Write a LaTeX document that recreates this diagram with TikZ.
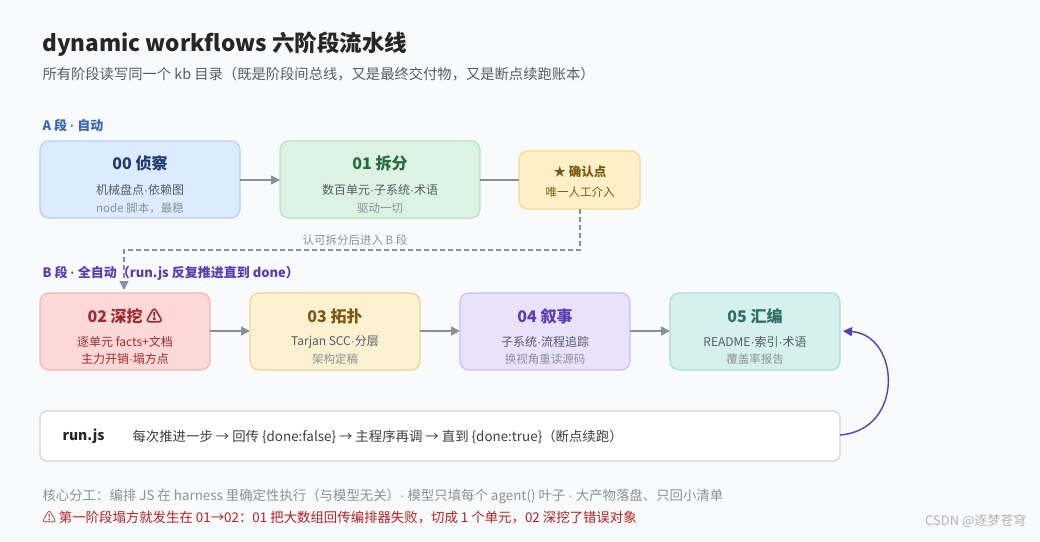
\documentclass[tikz,border=0pt]{standalone}
\usepackage{fontspec}
\setmainfont{Noto Sans CJK SC}
\newfontfamily\latf{Liberation Sans}
\newcommand{\dt}{{\latf ·}}
\usetikzlibrary{arrows.meta}
\definecolor{bg}{HTML}{F9FAFC}
\definecolor{ln}{HTML}{8A9099}
\definecolor{gtx}{HTML}{555B66}
\definecolor{ltx}{HTML}{8C9199}
\definecolor{ablue}{HTML}{3566B0}
\definecolor{purp}{HTML}{5B3DB0}
\definecolor{b0d}{HTML}{B5CFFB}\definecolor{b0f}{HTML}{DCEBFE}\definecolor{b0t}{HTML}{1E3A6E}
\definecolor{b1d}{HTML}{B3E3C2}\definecolor{b1f}{HTML}{DCF3E3}\definecolor{b1t}{HTML}{2A6B3F}
\definecolor{cd}{HTML}{F3D88E}\definecolor{cf}{HTML}{FDEFC8}\definecolor{ct}{HTML}{7A5A12}
\definecolor{b2d}{HTML}{F7B4B4}\definecolor{b2f}{HTML}{FDD8D8}\definecolor{b2t}{HTML}{9B2C2C}
\definecolor{b3d}{HTML}{EDD591}\definecolor{b3f}{HTML}{FBF0CF}
\definecolor{b4d}{HTML}{CDBDF2}\definecolor{b4f}{HTML}{EAE2FA}
\definecolor{b5d}{HTML}{A9DEDA}\definecolor{b5f}{HTML}{D6F0EE}\definecolor{b5t}{HTML}{2B6E6A}
\definecolor{rjd}{HTML}{D3D6DB}\definecolor{rjt}{HTML}{3A3F47}
\definecolor{warn}{HTML}{B22222}
\begin{document}
\begin{tikzpicture}[x=1pt,y=-1pt,
  box/.style={draw, rounded corners=9pt, line width=1.2pt, inner sep=0pt},
  arr/.style={draw=ln, line width=1.6pt, -{Triangle[length=9pt,width=9pt]}},
  ttl/.style={font=\fontsize{16}{19}\selectfont\bfseries},
  l1/.style={font=\fontsize{12}{14}\selectfont, text=gtx},
  l2/.style={font=\fontsize{11.5}{14}\selectfont, text=ltx}]
\fill[bg] (0,0) rectangle (1040,541);
\useasboundingbox (0,0) rectangle (1040,541);
\node[anchor=west, font=\fontsize{22.5}{26}\selectfont\bfseries, text=black!85] (title) at (39,44) {dynamic workflows 六阶段流水线};
\node[anchor=west, font=\fontsize{14.3}{17}\selectfont, text=gtx] (sub) at (39,74) {所有阶段读写同一个 kb 目录（既是阶段间总线，又是最终交付物，又是断点续跑账本）};
\node[anchor=west, font=\fontsize{13}{15}\selectfont\bfseries, text=ablue] (la) at (39,125) {A 段 \dt{} 自动};
\node[anchor=west, font=\fontsize{13}{15}\selectfont\bfseries, text=purp] (lb) at (39,273) {B 段 \dt{} 全自动（run.js 反复推进直到 done）};
% A row
\path[box, draw=b0d, fill=b0f] (40,141) rectangle (240,218);
\node[ttl, text=b0t] at (140,163) {00 侦察};
\node[l1] at (140,190) {机械盘点\dt 依赖图};
\node[l2] at (140,208) {node 脚本，最稳};
\coordinate (n0) at (240,180);
\path[box, draw=b1d, fill=b1f] (280,141) rectangle (480,218);
\node[ttl, text=b1t] at (380,163) {01 拆分};
\node[l1] at (380,190) {数百单元\dt 子系统\dt 术语};
\node[l2] at (380,208) {驱动一切};
\coordinate (n1l) at (280,180); \coordinate (n1r) at (480,180);
\path[box, draw=cd, fill=cf] (519,151) rectangle (640,209);
\node[font=\fontsize{12.5}{14}\selectfont\bfseries, text=ct] at (580,172) {★ 确认点};
\node[font=\fontsize{11.5}{14}\selectfont, text=ct] at (580,192) {唯一人工介入};
\coordinate (cl) at (519,180); \coordinate (cb) at (580,209);
\draw[arr] (n0) -- (n1l);
\draw[ln, line width=1.6pt] (n1r) -- (cl);
\coordinate (d2) at (124,290);
\draw[arr, dash pattern=on 5pt off 3pt, line width=1.3pt] (cb) -- (580,250) -- (124,250) -- (d2);
\node[font=\fontsize{11.5}{14}\selectfont, text=ltx] (dl) at (355,240) {认可拆分后进入 B 段};
% B row
\path[box, draw=b2d, fill=b2f] (40,293) rectangle (210,370);
\node[ttl, text=b2t] at (125,316) {02 深挖 ⚠};
\node[l1, text=b2t] at (125,342) {逐单元 facts+文档};
\node[l1, text=b2t] at (125,359) {主力开销\dt 塌方点};
\path[box, draw=b3d, fill=b3f] (250,293) rectangle (420,370);
\node[ttl, text=ct] at (335,316) {03 拓扑};
\node[l1] at (335,342) {Tarjan SCC\dt 分层};
\node[l2] at (335,359) {架构定稿};
\path[box, draw=b4d, fill=b4f] (460,293) rectangle (630,370);
\node[ttl, text=purp] at (545,316) {04 叙事};
\node[l1] at (545,342) {子系统\dt 流程追踪};
\node[l2] at (545,359) {换视角重读源码};
\path[box, draw=b5d, fill=b5f] (670,293) rectangle (840,370);
\node[ttl, text=b5t] at (755,316) {05 汇编};
\node[l1] at (755,342) {README\dt 索引\dt 术语};
\node[l2] at (755,359) {覆盖率报告};
\draw[arr] (210,331) -- (250,331);
\draw[arr] (420,331) -- (460,331);
\draw[arr] (630,331) -- (670,331);
% run.js
\path[box, rounded corners=7pt, draw=rjd, fill=white] (40,411) rectangle (840,461);
\node[anchor=west, font=\fontsize{14}{16}\selectfont\bfseries, text=black!85] (rj) at (59,436) {run.js};
\node[anchor=west, font=\fontsize{13.4}{15}\selectfont, text=rjt] (rjtx) at (129,437) {每次推进一步 → 回传 \{done:false\} → 主程序再调 → 直到 \{done:true\}（断点续跑）};
\draw[purp, line width=1.4pt, -{Triangle[length=9pt,width=9pt]}] (840,435) .. controls (905,430) and (900,335) .. (843,331);
% footer
\node[anchor=west, font=\fontsize{13.4}{15}\selectfont, text=ltx] (f1) at (39,496) {核心分工：编排 JS 在 harness 里确定性执行（与模型无关）\dt{} 模型只填每个 agent() 叶子 \dt{} 大产物落盘、只回小清单};
\node[anchor=west, font=\fontsize{13.4}{15}\selectfont, text=warn] (f2) at (39,518) {⚠ 第一阶段塌方就发生在 01→02：01 把大数组回传编排器失败，切成 1 个单元，02 深挖了错误对象};
\node[anchor=east, font=\fontsize{13}{15}\selectfont, text=black!30] (wm) at (1030,521) {CSDN @逐梦苍穹};
\end{tikzpicture}
\end{document}
